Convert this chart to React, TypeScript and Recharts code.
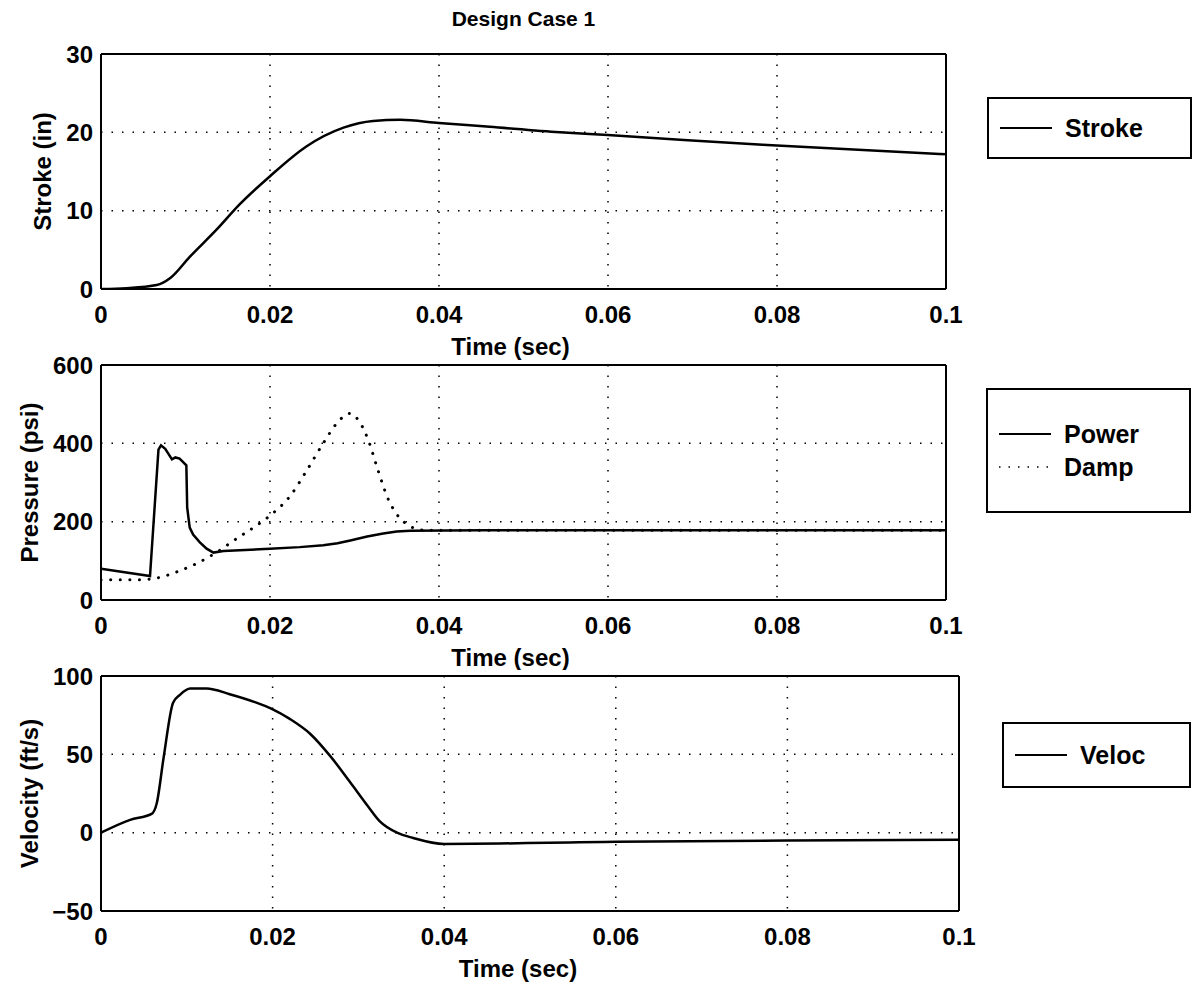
import { LineChart, Line, XAxis, YAxis, CartesianGrid, Legend, Label } from "recharts";

const TIME_TICKS = [0, 0.02, 0.04, 0.06, 0.08, 0.1];
const STROKE_TICKS = [0, 10, 20, 30];
const PRESSURE_TICKS = [0, 200, 400, 600];
const VELOC_TICKS = [-50, 0, 50, 100];
const LEGEND_ORDER = ["Stroke", "Power", "Damp", "Veloc"];

// Stroke (in)
const strokeTime = [0, 0.003, 0.0066, 0.0082, 0.0105, 0.0137, 0.0164, 0.02, 0.0243, 0.0287, 0.0322, 0.0354, 0.04, 0.046, 0.0543, 0.06, 0.0783, 0.1];
const strokeVal = [0, 0.1, 0.5, 1.4, 4.1, 7.6, 10.8, 14.4, 18.2, 20.6, 21.45, 21.6, 21.2, 20.7, 20.0, 19.65, 18.4, 17.2];

// Pressure (psi)
const powerTime = [0, 0.0058, 0.0068, 0.0071, 0.0076, 0.0084, 0.0088, 0.0093, 0.0101, 0.0102, 0.0105, 0.0109, 0.0117, 0.0125, 0.0133, 0.0145, 0.02, 0.0235, 0.0263, 0.028, 0.0295, 0.0315, 0.0334, 0.035, 0.0366, 0.045, 0.1];
const powerVal = [80, 61, 384, 395, 386, 359, 364, 361, 344, 236, 185, 167, 147, 131, 121, 125, 131, 135, 140, 145, 152, 162, 170, 175, 177, 178, 178];
const dampTime = [0, 0.0046, 0.0068, 0.009, 0.0113, 0.0137, 0.016, 0.0184, 0.0202, 0.0224, 0.0243, 0.0263, 0.0279, 0.0294, 0.0305, 0.0316, 0.0328, 0.0339, 0.0349, 0.0359, 0.037, 0.0385, 0.1];
const dampVal = [52, 52, 57, 72, 93, 122, 156, 190, 219, 266, 329, 400, 451, 476, 458, 410, 330, 262, 222, 198, 184, 178, 178];

// Velocity (ft/s)
const velocTime = [0, 0.0034, 0.0059, 0.0065, 0.0073, 0.0084, 0.0092, 0.0104, 0.0123, 0.015, 0.0181, 0.0199, 0.022, 0.0244, 0.0267, 0.029, 0.031, 0.0325, 0.0345, 0.0364, 0.04, 0.06, 0.08, 0.1];
const velocVal = [0, 8.2, 12, 18.8, 48, 83, 88, 92, 92, 88.4, 83, 79, 72.6, 63, 49, 32.5, 17.7, 7.2, 0, -3.4, -7.2, -5.8, -5, -4.5];

const zip = (ts: number[], vs: number[]) => ts.map((t, i) => ({ t, v: vs[i] }));

const FONT = '"Liberation Sans", Arial, Helvetica, sans-serif';
const TICK_STYLE = { fill: "#000", fontSize: 24, fontWeight: 700 };
const BOX_LINE = { stroke: "#000", strokeWidth: 2 };

const fmtY = (v: number) => (v < 0 ? `\u2212${Math.abs(v)}` : String(v));

function LegendBox({ payload }: any) {
  const items = [...(payload ?? [])].sort(
    (a: any, b: any) => LEGEND_ORDER.indexOf(a.value) - LEGEND_ORDER.indexOf(b.value)
  );
  return (
    <div
      style={{
        boxSizing: "border-box",
        width: "100%",
        height: "100%",
        border: "2px solid #000",
        background: "#fff",
        display: "flex",
        flexDirection: "column",
        justifyContent: "center",
        paddingLeft: 11,
        fontFamily: FONT,
      }}
    >
      {items.map((e: any) => (
        <div key={e.value} style={{ display: "flex", alignItems: "center", height: 33 }}>
          <svg width={52} height={6}>
            <line
              x1={0}
              y1={3}
              x2={52}
              y2={3}
              stroke="#000"
              strokeWidth={e.payload?.strokeDasharray ? 1.5 : 2}
              strokeDasharray={e.payload?.strokeDasharray ? "1.5 8" : undefined}
            />
          </svg>
          <span style={{ marginLeft: 13, fontSize: 25, fontWeight: 700, color: "#000" }}>{e.value}</span>
        </div>
      ))}
    </div>
  );
}

function frame(xHeight: number, yDomain: number[], yTicks: number[], yTitle: string, yTitleX: number, xTitleShift: number, title?: string) {
  return [
    <CartesianGrid key="grid" stroke="#000" strokeWidth={1.5} strokeDasharray="1.5 9" />,
    <XAxis
      key="xb"
      type="number"
      dataKey="t"
      domain={[0, 0.1]}
      ticks={TIME_TICKS}
      interval={0}
      allowDataOverflow
      height={xHeight}
      tickLine={false}
      tickSize={0}
      tickMargin={17}
      axisLine={BOX_LINE}
      tick={TICK_STYLE}
    >
      <Label
        content={({ viewBox }: any) => (
          <text
            x={viewBox.x + viewBox.width / 2 + xTitleShift}
            y={viewBox.y + 66}
            textAnchor="middle"
            fontSize={24}
            fontWeight={700}
            fill="#000"
          >
            Time (sec)
          </text>
        )}
      />
    </XAxis>,
    <XAxis
      key="xt"
      xAxisId="top"
      orientation="top"
      mirror
      type="number"
      dataKey="t"
      domain={[0, 0.1]}
      ticks={TIME_TICKS}
      interval={0}
      allowDataOverflow
      tick={false}
      tickSize={6}
      tickLine={BOX_LINE}
      axisLine={BOX_LINE}
    >
      {title ? (
        <Label
          content={({ viewBox }: any) => (
            <text x={viewBox.x + viewBox.width / 2} y={viewBox.y - 28} textAnchor="middle" fontSize={21} fontWeight={700} fill="#000">
              {title}
            </text>
          )}
        />
      ) : null}
    </XAxis>,
    <XAxis
      key="xbm"
      xAxisId="bm"
      orientation="bottom"
      mirror
      type="number"
      dataKey="t"
      domain={[0, 0.1]}
      ticks={TIME_TICKS}
      interval={0}
      allowDataOverflow
      tick={false}
      tickSize={6}
      tickLine={BOX_LINE}
      axisLine={false}
    />,
    <YAxis
      key="yl"
      type="number"
      domain={yDomain}
      ticks={yTicks}
      interval={0}
      allowDataOverflow
      width={101}
      tickLine={false}
      tickSize={0}
      tickMargin={8}
      axisLine={BOX_LINE}
      tick={TICK_STYLE}
      tickFormatter={fmtY}
    >
      <Label
        content={({ viewBox }: any) => {
          const cy = viewBox.y + viewBox.height / 2;
          return (
            <text
              transform={`translate(${yTitleX},${cy}) rotate(-90)`}
              textAnchor="middle"
              dominantBaseline="central"
              fontSize={24}
              fontWeight={700}
              fill="#000"
            >
              {yTitle}
            </text>
          );
        }}
      />
    </YAxis>,
    <YAxis
      key="yr"
      yAxisId="right"
      orientation="right"
      mirror
      type="number"
      domain={yDomain}
      ticks={yTicks}
      interval={0}
      allowDataOverflow
      tick={false}
      tickSize={6}
      tickLine={BOX_LINE}
      axisLine={BOX_LINE}
    />,
    <YAxis
      key="ylm"
      yAxisId="lm"
      orientation="left"
      mirror
      type="number"
      domain={yDomain}
      ticks={yTicks}
      interval={0}
      allowDataOverflow
      tick={false}
      tickSize={6}
      tickLine={BOX_LINE}
      axisLine={false}
    />,
  ];
}

export default function App() {
  return (
    <div style={{ position: "absolute", left: 0, top: 0, width: 1195, height: 990, background: "#fff", fontFamily: FONT }}>
      <div style={{ position: "absolute", left: 0, top: 0 }}>
        <LineChart width={1195} height={360} margin={{ top: 54, right: 249, bottom: 0, left: 0 }}>
          {frame(71, [0, 30], STROKE_TICKS, "Stroke (in)", 42, -13, "Design Case 1")}
          <Line
            data={zip(strokeTime, strokeVal)}
            dataKey="v"
            name="Stroke"
            type="monotone"
            stroke="#000"
            strokeWidth={2.5}
            dot={false}
            activeDot={false}
            isAnimationActive={false}
          />
          <Legend
            layout="vertical"
            align="center"
            verticalAlign="middle"
            content={LegendBox}
            wrapperStyle={{ left: 987, top: 97, width: 205, height: 62 }}
          />
        </LineChart>
      </div>

      <div style={{ position: "absolute", left: 0, top: 335 }}>
        <LineChart width={1195} height={335} margin={{ top: 30, right: 249, bottom: 0, left: 0 }}>
          {frame(70, [0, 600], PRESSURE_TICKS, "Pressure (psi)", 29, -13)}
          <Line
            data={zip(powerTime, powerVal)}
            dataKey="v"
            name="Power"
            type="linear"
            stroke="#000"
            strokeWidth={2.5}
            dot={false}
            activeDot={false}
            isAnimationActive={false}
          />
          <Line
            data={zip(dampTime, dampVal)}
            dataKey="v"
            name="Damp"
            type="monotone"
            stroke="#000"
            strokeWidth={3}
            strokeLinecap="round"
            strokeDasharray="0.1 9.5"
            dot={false}
            activeDot={false}
            isAnimationActive={false}
          />
          <Legend
            layout="vertical"
            align="center"
            verticalAlign="middle"
            content={LegendBox}
            wrapperStyle={{ left: 986, top: 53, width: 205, height: 125 }}
          />
        </LineChart>
      </div>

      <div style={{ position: "absolute", left: 0, top: 646 }}>
        <LineChart width={1195} height={344} margin={{ top: 30, right: 236, bottom: 0, left: 0 }}>
          {frame(79, [-50, 100], VELOC_TICKS, "Velocity (ft/s)", 29, -12)}
          <Line
            data={zip(velocTime, velocVal)}
            dataKey="v"
            name="Veloc"
            type="monotone"
            stroke="#000"
            strokeWidth={2.5}
            dot={false}
            activeDot={false}
            isAnimationActive={false}
          />
          <Legend
            layout="vertical"
            align="center"
            verticalAlign="middle"
            content={LegendBox}
            wrapperStyle={{ left: 1002, top: 76, width: 189, height: 66 }}
          />
        </LineChart>
      </div>
    </div>
  );
}
